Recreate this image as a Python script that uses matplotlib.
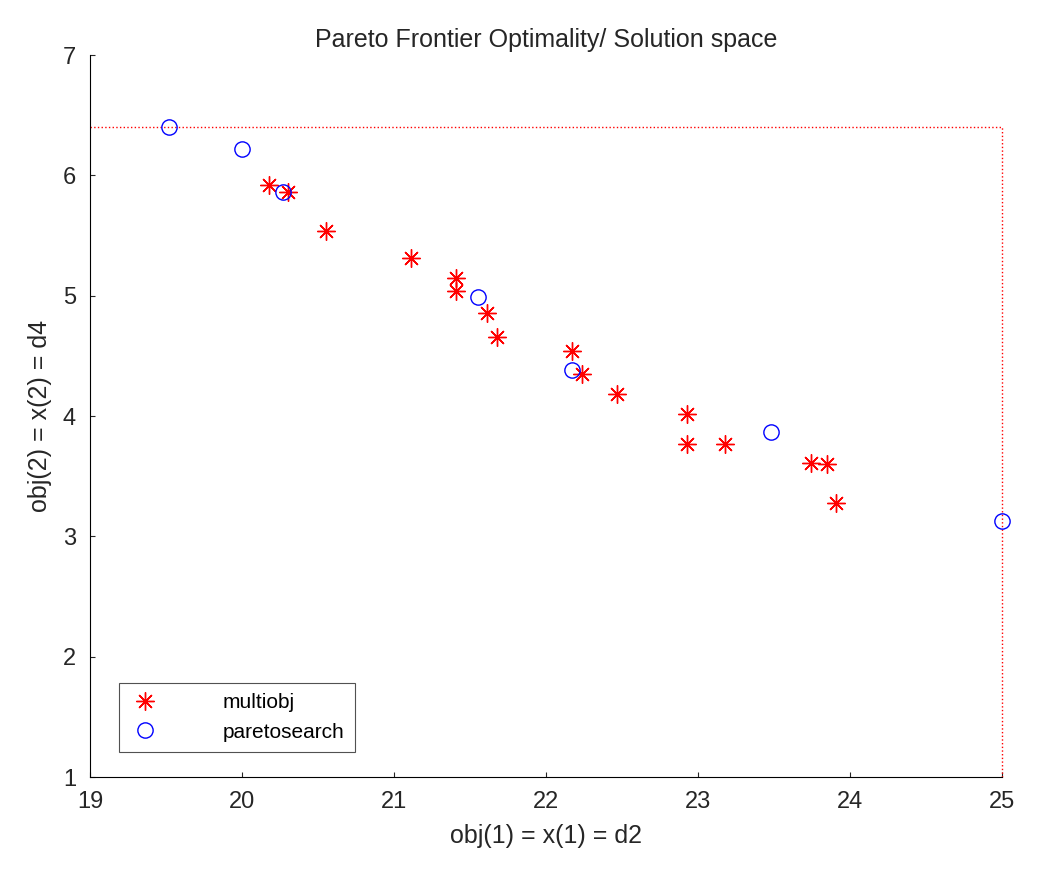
import matplotlib.pyplot as plt

plt.rcParams['font.family'] = ['Liberation Sans', 'DejaVu Sans']

# multiobj results
multi_x = [20.18, 20.30, 20.55, 21.11, 21.41, 21.41, 21.61, 21.68, 22.17, 22.24,
           22.47, 22.93, 22.93, 23.18, 23.74, 23.85, 23.91]
multi_y = [5.92, 5.86, 5.54, 5.31, 5.15, 5.04, 4.86, 4.66, 4.54, 4.35,
           4.18, 4.02, 3.77, 3.77, 3.61, 3.60, 3.28]

# paretosearch results
pareto_x = [19.52, 20.00, 20.27, 21.55, 22.17, 23.48, 25.00]
pareto_y = [6.40, 6.22, 5.86, 4.99, 4.38, 3.87, 3.13]

# bounding box of the frontier
xmax = 25.0
ymax = 6.4

fig = plt.figure(figsize=(10.4, 8.83), dpi=100)
ax = fig.add_axes([0.0865, 0.12, 0.877, 0.8177])

ax.plot([19, xmax], [ymax, ymax], ':', color='red', lw=1.0, clip_on=False)
ax.plot([xmax, xmax], [1, ymax], ':', color='red', lw=1.0, clip_on=False)
ax.plot(multi_x, multi_y, marker=(8, 2, 0), color='red', markersize=13,
        markeredgewidth=1.0, linestyle='none', label='multiobj', clip_on=False)
ax.plot(pareto_x, pareto_y, 'o', color='blue', markersize=11, markerfacecolor='none',
        markeredgewidth=1.0, linestyle='none', label='paretosearch', clip_on=False)

ax.set_xlim(19, 25)
ax.set_ylim(1, 7)
ax.spines['top'].set_visible(False)
ax.spines['right'].set_visible(False)
ax.tick_params(labelsize=17, direction='in', colors='#262626', pad=10)
ax.set_xlabel('obj(1) = x(1) = d2', fontsize=18, color='#262626', labelpad=8)
ax.set_ylabel('obj(2) = x(2) = d4', fontsize=18, color='#262626', labelpad=8)
ax.set_title('Pareto Frontier Optimality/ Solution space', fontsize=18, color='#262626')

leg = ax.legend(loc='lower left', fontsize=15, fancybox=False, edgecolor='#262626',
                borderpad=0.5, handletextpad=3.0, handlelength=1.5,
                bbox_to_anchor=(0.02, 0.02))
leg.get_frame().set_linewidth(0.8)

fig.savefig('out.png')
